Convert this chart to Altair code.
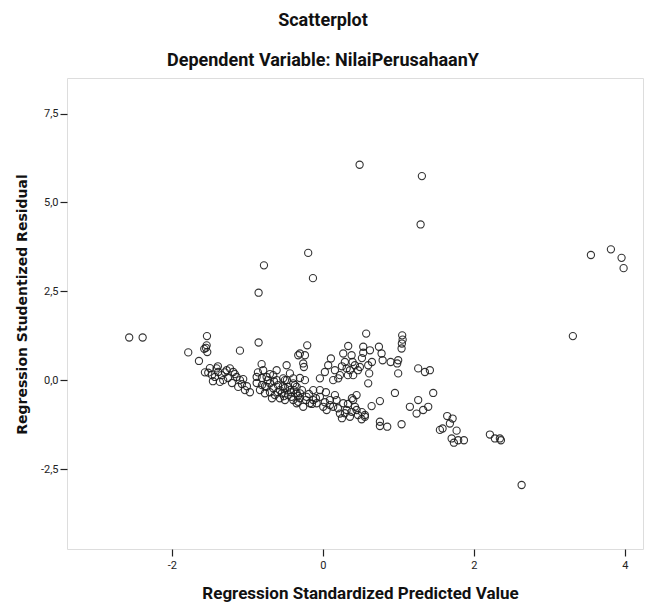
import altair as alt
import pandas as pd

# Regression Standardized Predicted Value (x) and Regression Studentized Residual (y)
pred = [
    -2.566, -2.388, 0.486, 1.311, 1.294, -0.195, -0.781, -0.132, -0.852, 3.550,
    3.815, 3.956, 3.983, 3.311, 2.632,
    -1.536, -1.540, -1.550, -1.532, -1.572, -1.784, -1.642, -1.099, -0.852, -1.519,
    -1.408, -1.387, -1.430, -1.342, -1.321, -1.232, -1.188, -1.143, -1.099, -1.122,
    -1.033, -1.056, -1.275, -1.364, -0.812, -0.327,
    -0.878, -0.878, -0.791, -0.746, -0.702, -0.768, -0.658, -0.613, -0.570, -0.503,
    -0.481, -0.437, -0.393, -0.348, -0.570, -0.746, -0.658, -0.526, -0.460, -0.348,
    -0.415, -0.613, -0.702, -0.596, -0.543, -0.464, -0.384, -0.305, -0.808, -0.636,
    -0.728, -0.503,
    -0.503, -0.393, -0.437, -0.348, -0.305, -0.238, -0.216, -0.172, -0.128, -0.261,
    -0.393, -0.327, -0.128, -0.305, -0.238, -0.261, -0.252, -0.208,
    0.573, 1.050, 1.056, 1.046, 1.042, 0.335, 0.534, 0.534, 0.623, 0.742,
    0.777, 0.791, 0.897, 0.997, 0.984, 0.269, 0.380, 0.393, 0.106, 0.070,
    0.026, -0.040, 0.314, 0.358, 0.424, 0.401, 0.490, 0.600, 0.613, 0.600,
    0.159, 0.203, 0.136, 0.225, 0.997, 1.262, 1.417, 1.351, 1.461, 0.954,
    0.755, 0.645, 1.152, 1.262, 1.241, 1.328, 1.395, 1.042, 0.755, 0.755,
    0.852, 0.556, 0.556, 0.513, 0.446, 0.401, 0.424, 0.380, 0.358, 0.314,
    0.269, 0.446, 0.225, 0.136, 0.181, 0.093, 0.049, 0.004, -0.083, -0.040,
    -0.040, 0.040,
    1.646, 1.718, 1.682, 1.550, 1.585, 1.771, 1.705, 1.735, 1.792, 1.868,
    2.212, 2.278, 2.344, 2.358,
    -1.497, -1.470, -1.298, -1.258, -1.205, -1.166, -1.073, -1.007, -0.967, -1.391,
    -1.563, -1.457,
    -0.861, -0.808, -0.768, -0.702, -0.649, -0.596, -0.530, -0.477, -0.424, -0.371,
    -0.331, -0.278, -0.225, -0.185, -0.146, -0.093, -0.305, -0.517, -0.675, -0.834,
    0.093, 0.199, 0.291, 0.331, 0.384, 0.464, 0.517, 0.026, 0.252, 0.159,
    0.291, 0.464, 0.517, 0.649, 0.331, 0.252,
]
resid = [
    1.20, 1.20, 6.06, 5.74, 4.38, 3.58, 3.23, 2.87, 2.46, 3.52,
    3.68, 3.44, 3.15, 1.24, -2.95,
    1.24, 0.98, 0.91, 0.79, 0.88, 0.78, 0.54, 0.83, 1.06, 0.21,
    0.33, 0.23, 0.09, 0.14, 0.00, 0.33, 0.23, 0.09, 0.00, -0.19,
    -0.28, 0.03, 0.28, -0.05, 0.45, 0.70,
    0.09, -0.08, 0.28, 0.09, -0.09, -0.37, -0.23, 0.00, -0.28, -0.56,
    0.42, 0.19, -0.09, -0.37, -0.51, -0.19, 0.14, 0.05, -0.19, -0.65,
    -0.47, 0.28, -0.34, -0.14, -0.37, -0.42, -0.28, -0.51, -0.14, -0.42,
    0.00, -0.22,
    0.00, 0.05, -0.28, -0.19, -0.37, 0.00, -0.47, -0.65, -0.28, -0.75,
    -0.56, -0.61, -0.56, 0.75, 0.70, 0.47, 0.37, 0.98,
    1.31, 1.26, 1.14, 1.03, 0.89, 0.96, 0.94, 0.77, 0.84, 0.94,
    0.75, 0.56, 0.51, 0.56, 0.47, 0.75, 0.70, 0.51, 0.61, 0.42,
    0.23, 0.05, 0.33, 0.28, 0.42, 0.14, 0.37, 0.42, 0.19, -0.09,
    0.28, 0.05, 0.00, 0.14, 0.19, 0.33, 0.28, 0.23, -0.36, -0.36,
    -0.59, -0.73, -0.75, -0.56, -0.94, -0.84, -0.75, -1.24, -1.17, -1.29,
    -1.31, -0.98, -1.03, -1.10, -0.42, -0.56, -0.75, -0.89, -1.03, -0.84,
    -0.65, -0.84, -0.94, -0.75, -0.56, -0.56, -0.84, -0.75, -0.65, -0.47,
    -0.28, -0.34,
    -1.01, -1.08, -1.22, -1.40, -1.36, -1.42, -1.64, -1.76, -1.69, -1.69,
    -1.53, -1.64, -1.64, -1.69,
    0.34, 0.14, 0.22, 0.06, -0.08, 0.17, -0.11, -0.17, -0.34, 0.39,
    0.22, -0.03,
    0.22, 0.06, -0.17, 0.17, -0.03, -0.34, -0.17, 0.00, -0.34, -0.14,
    -0.45, -0.28, -0.56, -0.39, -0.67, -0.51, 0.06, -0.45, -0.51, -0.28,
    -0.70, -0.79, -0.93, -0.67, -0.51, -0.98, -0.90, -0.62, -1.07, -0.42,
    0.51, 0.28, 0.62, 0.51, 0.14, 0.39,
]

x_ticks = [-2, 0, 2, 4]
y_ticks = [-2.5, 0.0, 2.5, 5.0, 7.5]

df = pd.DataFrame({"pred": pred, "resid": resid})

narrow = "Liberation Sans Narrow, Arial Narrow, Roboto, sans-serif"

chart = (
    alt.Chart(df)
    .mark_point(shape="circle", filled=False, size=52, stroke="#1e1e1e",
                strokeWidth=1.1, opacity=0.9)
    .encode(
        x=alt.X(
            "pred:Q",
            scale=alt.Scale(domain=[-3.39, 4.24], nice=False, zero=False),
            axis=alt.Axis(
                values=x_ticks,
                title="Regression Standardized Predicted Value",
                labelExpr="(datum.value < 0 ? '-' : '') + format(abs(datum.value), 'd')",
                grid=False, domain=False, tickColor="#222", tickSize=7, tickWidth=1.2,
                labelFont=narrow, labelFontSize=11, labelColor="#222", labelPadding=3,
                titleFont=narrow, titleFontSize=17, titleFontWeight="bold", titleColor="#111",
                titleX=293, titleY=44, titleBaseline="middle",
            ),
        ),
        y=alt.Y(
            "resid:Q",
            scale=alt.Scale(domain=[-4.75, 8.5], nice=False, zero=False),
            axis=alt.Axis(
                values=y_ticks,
                title="Regression Studentized Residual",
                labelExpr="(datum.value < 0 ? '-' : '') + replace(format(abs(datum.value), '.1f'), '.', ',')",
                grid=False, domain=False, tickColor="#222", tickSize=7, tickWidth=1.2,
                labelFont=narrow, labelFontSize=11, labelColor="#222", labelPadding=2,
                titleFont="DejaVu Sans", titleFontSize=14, titleFontWeight="bold", titleColor="#111",
                titleX=-45, titleY=226, titleAngle=270, titleAlign="center", titleBaseline="middle",
            ),
        ),
    )
    .properties(
        width=576,
        height=471,
        autosize=alt.AutoSizeParams(type="none"),
        padding={"left": 67, "top": 78, "right": 2, "bottom": 59},
        title=alt.TitleParams(
            text="Scatterplot",
            subtitle="Dependent Variable: NilaiPerusahaanY",
            anchor="middle",
            frame="group",
            dx=-32,
            offset=8,
            font=narrow,
            fontSize=18,
            fontWeight="bold",
            color="#111",
            subtitleFont=narrow,
            subtitleFontSize=18,
            subtitleFontWeight="bold",
            subtitleColor="#111",
            subtitlePadding=22,
        ),
    )
    .configure_view(fill="#f0f0f0", stroke="#222", strokeWidth=1.3)
    .configure(background="white")
)

chart.save("out.html", embed_options={"renderer": "svg", "actions": False})
